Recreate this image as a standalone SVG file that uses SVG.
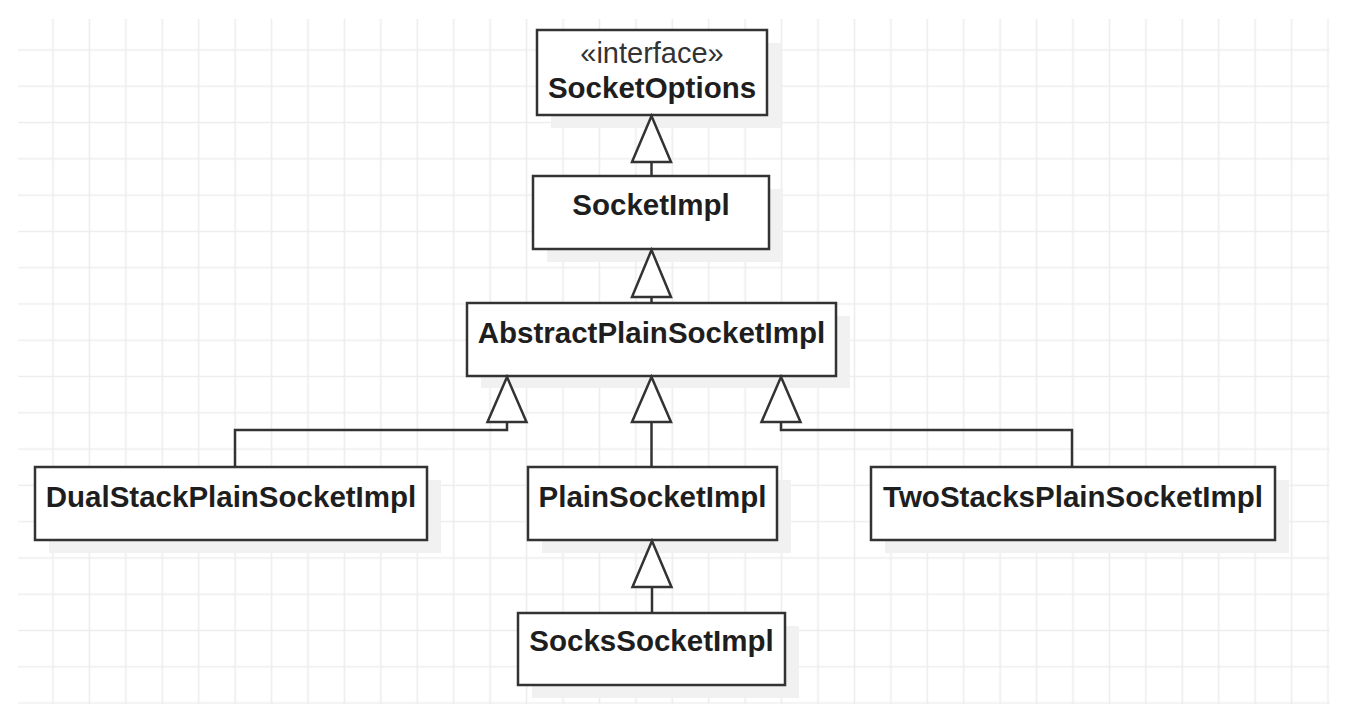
<svg xmlns="http://www.w3.org/2000/svg" width="1352" height="710" viewBox="0 0 1352 710">
  <style>
    .shadow { fill: #f1f1f1; stroke: none; }
    .box { fill: #ffffff; stroke: #333333; stroke-width: 2.5; }
    .name { font-family: "Liberation Sans", Arial, sans-serif; font-weight: bold; font-size: 29.5px; fill: #1e1e1e; text-anchor: middle; }
    .stereo { font-family: "Liberation Sans", Arial, sans-serif; font-size: 29px; fill: #333333; text-anchor: middle; }
    .edge { fill: none; stroke: #333333; stroke-width: 2.5; }
    .head { fill: #ffffff; stroke: #333333; stroke-width: 2.5; stroke-linejoin: miter; }
  </style>
  <defs>
    <pattern id="grid" patternUnits="userSpaceOnUse" x="34.8" y="31.86" width="36.43" height="36.28">
      <path d="M18.2 0V36.28M0 18.14H36.43" fill="none" stroke="#ededed" stroke-width="1.6"/>
    </pattern>
  </defs>
  <rect x="0" y="0" width="1352" height="710" fill="#ffffff"/>
  <rect x="18" y="19" width="1311.5" height="685" fill="url(#grid)"/>

  <g id="SocketOptions">
    <rect class="shadow" x="551" y="43" width="230" height="85"/>
    <rect class="box" x="537" y="30" width="230" height="85"/>
    <text class="stereo" x="652" y="63">«interface»</text>
    <text class="name" x="652" y="98">SocketOptions</text>
  </g>

  <g id="SocketImpl">
    <rect class="shadow" x="547" y="189" width="236" height="73"/>
    <rect class="box" x="533" y="176" width="236" height="73"/>
    <text class="name" x="651" y="215">SocketImpl</text>
  </g>

  <g id="AbstractPlainSocketImpl">
    <rect class="shadow" x="481" y="316" width="369" height="72"/>
    <rect class="box" x="467" y="303" width="369" height="73"/>
    <text class="name" x="651.5" y="343">AbstractPlainSocketImpl</text>
  </g>

  <g id="DualStackPlainSocketImpl">
    <rect class="shadow" x="49" y="480" width="392" height="73"/>
    <rect class="box" x="35" y="467" width="392" height="73"/>
    <text class="name" x="231" y="507">DualStackPlainSocketImpl</text>
  </g>

  <g id="PlainSocketImpl">
    <rect class="shadow" x="542" y="480" width="249" height="73"/>
    <rect class="box" x="528" y="467" width="249" height="73"/>
    <text class="name" x="652.5" y="507">PlainSocketImpl</text>
  </g>

  <g id="TwoStacksPlainSocketImpl">
    <rect class="shadow" x="885" y="480" width="404" height="73"/>
    <rect class="box" x="871" y="467" width="404" height="73"/>
    <text class="name" x="1073" y="507">TwoStacksPlainSocketImpl</text>
  </g>

  <g id="SocksSocketImpl">
    <rect class="shadow" x="532" y="626" width="267" height="72"/>
    <rect class="box" x="518" y="613" width="267" height="72"/>
    <text class="name" x="651.5" y="651">SocksSocketImpl</text>
  </g>

  <g id="connectors">
    <!-- SocketImpl -> SocketOptions -->
    <line class="edge" x1="651.5" y1="162" x2="651.5" y2="176"/>
    <polygon class="head" points="651.5,116 632,162 671,162"/>
    <!-- AbstractPlainSocketImpl -> SocketImpl -->
    <line class="edge" x1="651.5" y1="297" x2="651.5" y2="303"/>
    <polygon class="head" points="651.5,250 632,297 671,297"/>
    <!-- DualStack -> Abstract -->
    <polyline class="edge" points="507,422 507,430 235,430 235,467"/>
    <polygon class="head" points="507,377 487.5,422 526.5,422"/>
    <!-- Plain -> Abstract -->
    <line class="edge" x1="651.5" y1="422" x2="651.5" y2="467"/>
    <polygon class="head" points="651.5,377 632,422 671,422"/>
    <!-- TwoStacks -> Abstract -->
    <polyline class="edge" points="781,422 781,430 1072,430 1072,467"/>
    <polygon class="head" points="781,377 761.5,422 800.5,422"/>
    <!-- Socks -> Plain -->
    <line class="edge" x1="652" y1="587" x2="652" y2="613"/>
    <polygon class="head" points="652,541 632.5,587 671.5,587"/>
  </g>
</svg>
